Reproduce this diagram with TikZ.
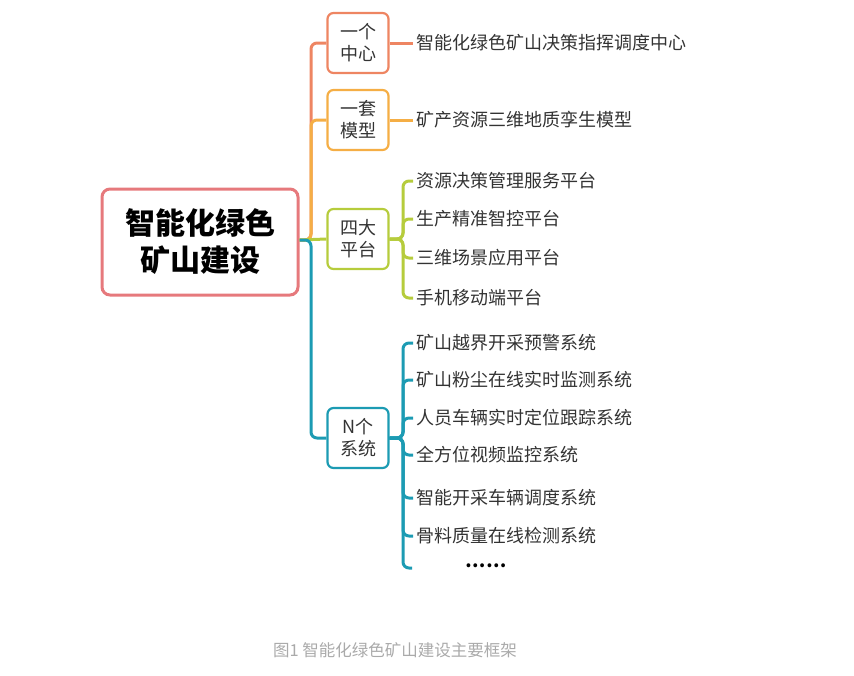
\documentclass[tikz,border=0pt]{standalone}
\usepackage{fontspec}
\setmainfont{Noto Sans CJK SC}
\definecolor{rootred}{HTML}{E6797C}
\definecolor{ccenter}{HTML}{EE8562}
\definecolor{cmodel}{HTML}{F5AE45}
\definecolor{cplat}{HTML}{B6CC3C}
\definecolor{csys}{HTML}{1C9BB3}
\definecolor{textgray}{HTML}{333333}
\definecolor{capgray}{HTML}{AAAAAA}
\begin{document}
\begin{tikzpicture}[x=1pt,y=-1pt,
        branch/.style={line width=3pt, rounded corners=6pt},
        box/.style={draw=#1, line width=2.2pt, rounded corners=6pt, fill=white, minimum width=61pt, minimum height=60pt, align=center, text=textgray, font=\fontsize{18}{22}\selectfont},
        leaf/.style={anchor=west, inner xsep=3pt, inner ysep=0pt, text height=14pt, text depth=2pt, text=textgray, font=\fontsize{18}{22}\selectfont}]
    \useasboundingbox (0,0) rectangle (854,675);

    % root and the four branches
    \node[draw=rootred, line width=3pt, rounded corners=8pt, minimum width=196pt, minimum height=106pt, align=center, text=black, font=\fontsize{30}{37}\selectfont\bfseries] (root) at (200,242) {智能化绿色\\矿山建设};
    \node[box=ccenter] (center) at (358,43) {一个\\中心};
    \node[box=cmodel] (model) at (358,120) {一套\\模型};
    \node[box=cplat] (plat) at (358,239) {四大\\平台};
    \node[box=csys] (sys) at (358,438) {N个\\系统};

    \coordinate (trunk) at (311,240);
    \draw[branch, ccenter] (root.east |- trunk) -- (trunk) |- (center.west);
    \draw[branch, cmodel] (root.east |- trunk) -- (trunk) |- (model.west);
    \draw[branch, cplat] (root.east |- trunk) -- (plat.west);
    \draw[branch, csys] (root.east |- trunk) -- (trunk) |- (sys.west);

    % leaves
    \node[leaf] (centerleaf) at (413,43) {智能化绿色矿山决策指挥调度中心};
    \draw[branch, ccenter] (center.east) -- (centerleaf.west);
    \node[leaf] (modelleaf) at (413,120) {矿产资源三维地质孪生模型};
    \draw[branch, cmodel] (model.east) -- (modelleaf.west);

    \coordinate (platfork) at (403,239);
    \foreach \y/\t [count=\i] in {181/资源决策管理服务平台, 219/生产精准智控平台, 258/三维场景应用平台, 298/手机移动端平台} {
            \node[leaf] (plat\i) at (413,\y) {\t};
            \draw[branch, cplat] (plat.east) -- (platfork) |- (plat\i.west);
        }

    \coordinate (sysfork) at (403,438);
    \foreach \y/\t [count=\i] in {343/矿山越界开采预警系统, 380/矿山粉尘在线实时监测系统, 418/人员车辆实时定位跟踪系统, 455/全方位视频监控系统, 498/智能开采车辆调度系统, 536/骨料质量在线检测系统} {
            \node[leaf] (sys\i) at (413,\y) {\t};
            \draw[branch, csys] (sys.east) -- (sysfork) |- (sys\i.west);
        }
    \coordinate (sysend) at (412,568);
    \draw[branch, csys] (sys.east) -- (sysfork) |- (sysend);
    \node[text=black, font=\fontsize{18}{22}\selectfont\bfseries] (dots) at (486,566) {……};

    \node[text=capgray, font=\fontsize{16.5}{20}\selectfont] (caption) at (395,650) {图1 智能化绿色矿山建设主要框架};
\end{tikzpicture}
\end{document}
